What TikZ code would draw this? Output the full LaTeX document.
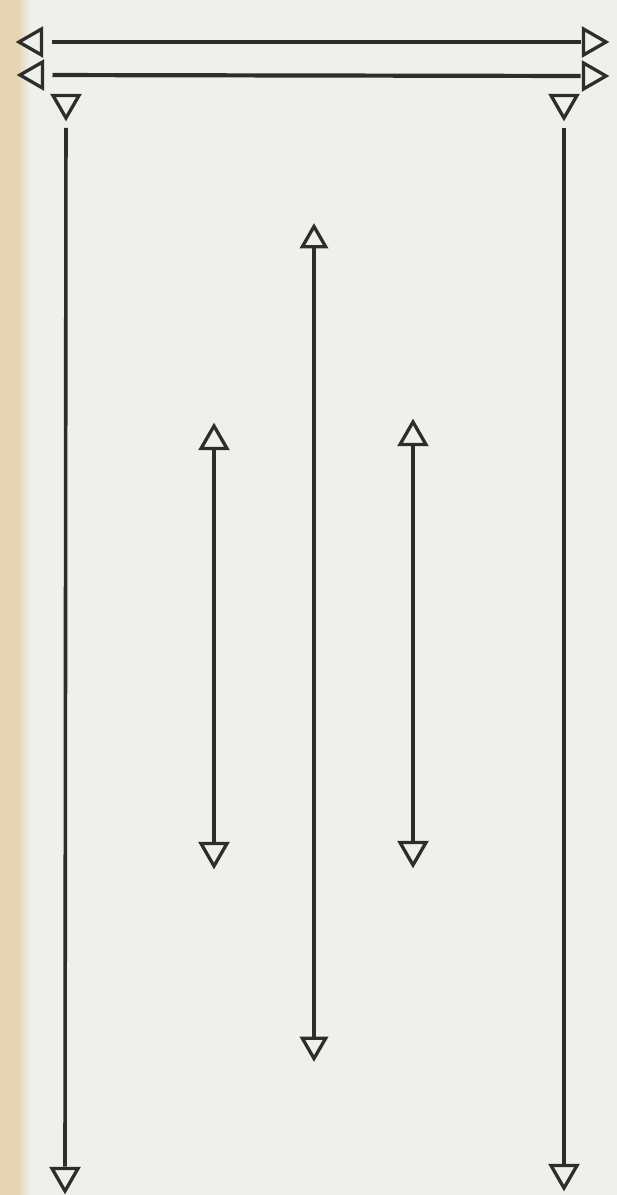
\documentclass[tikz,border=0pt]{standalone}
\usetikzlibrary{shapes.geometric}
\definecolor{bgpaper}{RGB}{239,239,235}
\definecolor{beige}{RGB}{230,212,178}
\definecolor{ink}{RGB}{45,45,45}
\tikzset{
  tri/.style={regular polygon, regular polygon sides=3, minimum size=30pt, inner sep=0pt, outer sep=0pt,
              draw=ink, line width=3.3pt, fill=bgpaper, line join=miter},
  trismall/.style={tri, minimum size=27pt},
  tipleft/.style={shape border rotate=90},
  tipright/.style={shape border rotate=270},
  tipdown/.style={shape border rotate=180},
  tipup/.style={shape border rotate=0},
  hline/.style={draw=ink, line width=4.2pt},
  vline/.style={draw=ink, line width=3.6pt}
}
\begin{document}
\begin{tikzpicture}[x=1pt,y=-1pt]
\useasboundingbox (0,0) rectangle (617,1195);
\fill[bgpaper] (0,0) rectangle (617,1195);
\fill[beige] (0,0) rectangle (18,1195);
\shade[left color=beige, right color=bgpaper] (18,0) rectangle (30,1195);

% top horizontal double arrows
\node[tri, tipleft]  (h1l) at (34,42) {};
\node[tri, tipright] (h1r) at (591,42) {};
\node[tri, tipleft]  (h2l) at (35,75) {};
\node[tri, tipright] (h2r) at (591,76) {};
\draw[hline, shorten <=10pt, shorten >=3pt] (h1l) -- (h1r);
\draw[hline, shorten <=10pt, shorten >=3pt] (h2l) -- (h2r);

% outer verticals
\node[tri, tipdown] (lt) at (66,103) {};
\node[tri, tipdown] (lb) at (65,1176) {};
\node[tri, tipdown] (rt) at (564,103) {};
\node[tri, tipdown] (rb) at (564,1173) {};
\draw[vline, shorten <=10pt, shorten >=2pt] (lt) -- (lb);
\draw[vline, shorten <=10pt, shorten >=2pt] (rt) -- (rb);

% centre vertical
\node[trismall, tipup]   (ct) at (314,240) {};
\node[trismall, tipdown] (cb) at (314,1045) {};
\draw[vline] (ct) -- (cb);

% inner verticals
\node[tri, tipup]   (it1) at (214,441) {};
\node[tri, tipdown] (ib1) at (214,851) {};
\draw[vline] (it1) -- (ib1);
\node[tri, tipup]   (it2) at (413,437) {};
\node[tri, tipdown] (ib2) at (413,850) {};
\draw[vline] (it2) -- (ib2);
\end{tikzpicture}
\end{document}
